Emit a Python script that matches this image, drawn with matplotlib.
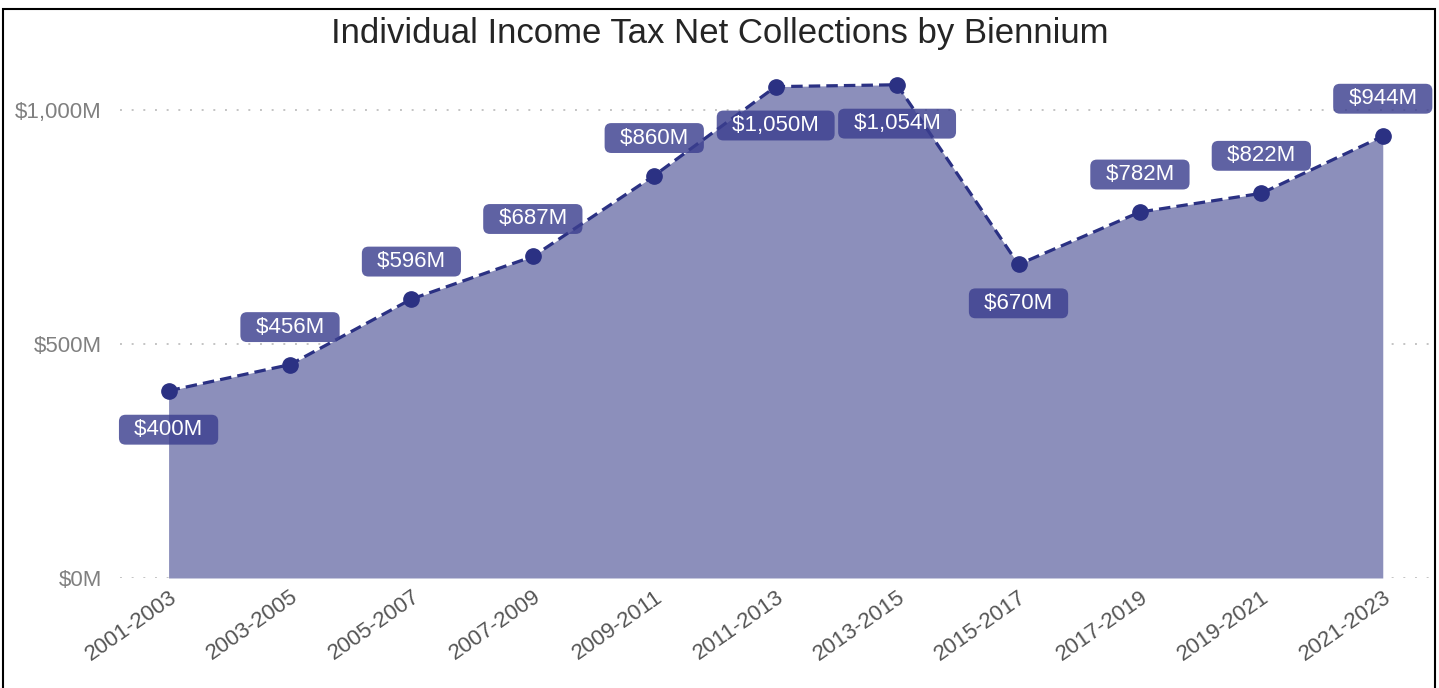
"""
    Area chart of individual income tax net collections per biennium
"""
import matplotlib.pyplot as plt
from matplotlib.patches import Rectangle
from matplotlib.ticker import FuncFormatter

bienniums = ["2001-2003", "2003-2005", "2005-2007", "2007-2009", "2009-2011",
             "2011-2013", "2013-2015", "2015-2017", "2017-2019", "2019-2021",
             "2021-2023"]
collections = [400, 456, 596, 687, 860, 1050, 1054, 670, 782, 822, 944]  # $M
label_below = [True, False, False, False, False, True, True, True, False, False, False]

plt.rcParams['font.family'] = ['Liberation Sans', 'DejaVu Sans']

fig = plt.figure(figsize=(14.39, 6.88), dpi=100)
ax = fig.add_axes([0.0834, 0.1599, 0.9138, 0.755])

x = list(range(len(bienniums)))
ax.fill_between(x, 0, collections, color="#8c8fbb", linewidth=0, zorder=1)
ax.plot(x, collections, color="#2b3183", linestyle=(0, (3.6, 1.9)), linewidth=2.3,
        marker="o", markersize=11, zorder=3)

for xi, val, below in zip(x, collections, label_below):
    dy = -28 if below else 27
    ax.annotate("\u2002${:,}M\u2002".format(val), (xi, val), xytext=(0, dy),
                textcoords="offset points", ha="center", va="center",
                fontsize=16, color="white", zorder=4,
                bbox=dict(boxstyle="round,pad=0.2,rounding_size=0.3",
                          fc="#3c3f8f", ec="none", alpha=0.82))

ax.set_xlim(-0.40, 10.43)
ax.set_ylim(0, 1110)
ax.set_yticks([0, 500, 1000])
ax.yaxis.set_major_formatter(FuncFormatter(lambda v, p: "${:,.0f}M".format(v)))
ax.grid(axis="y", linestyle=(0, (1, 5)), color="#c4c4c4", linewidth=1.4)
ax.set_axisbelow(True)
ax.set_xticks(x)
ax.set_xticklabels(bienniums, rotation=35, ha="right", rotation_mode="anchor")
ax.tick_params(axis="y", length=0, labelsize=16, labelcolor="#808080", pad=13)
ax.tick_params(axis="x", length=0, labelsize=16, labelcolor="#555555", pad=6)
for s in ax.spines.values():
    s.set_visible(False)

fig.suptitle("Individual Income Tax Net Collections by Biennium",
             fontsize=25, color="#252525", y=0.975)

# thin frame around the whole figure
fig.patches.append(Rectangle((0.002, -0.01), 0.995, 0.997, transform=fig.transFigure,
                             fill=False, edgecolor="black", linewidth=1.5))

plt.savefig("out.png", dpi=100)
